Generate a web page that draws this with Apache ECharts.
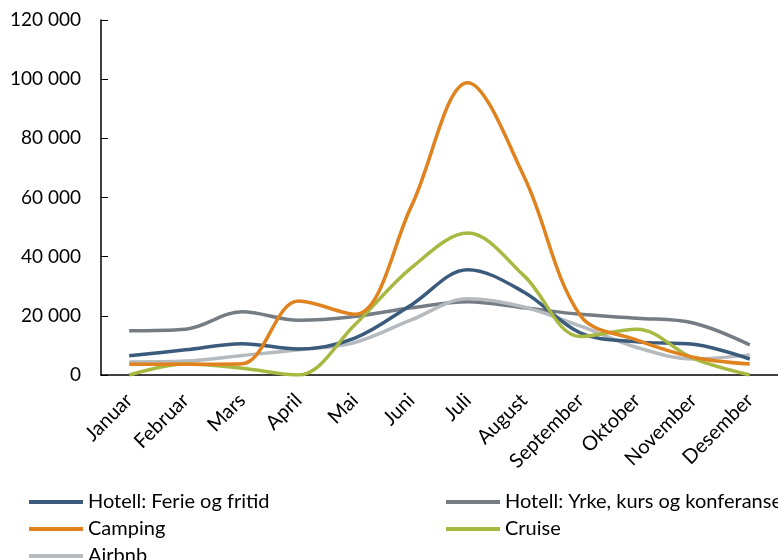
<!DOCTYPE html>
<html>
<head>
<meta charset="utf-8">
<script src="https://cdn.jsdelivr.net/npm/echarts@6/dist/echarts.min.js"></script>
<style>html,body{margin:0;padding:0;background:#fff}#c{width:778px;height:560px}</style>
</head>
<body>
<div id="c"></div>
<script>
var months = ['Januar','Februar','Mars','April','Mai','Juni','Juli','August','September','Oktober','November','Desember'];
var hotellFerie = [6500, 8500, 10600, 8800, 12500, 23700, 35600, 28000, 14200, 11200, 10400, 5400];
var hotellYrke = [15000, 15500, 21400, 18500, 19800, 22700, 24800, 22700, 20500, 19200, 17600, 10200];
var camping = [3600, 3600, 3800, 25000, 20500, 57000, 98800, 67000, 20000, 11800, 6000, 3700];
var cruise = [0, 3700, 2300, 0, 17000, 36200, 48000, 33500, 13000, 15500, 5600, 0];
var airbnb = [4400, 4700, 6600, 8500, 11000, 18600, 25800, 23000, 16500, 9300, 5400, 6800];
var yMin = 0, yMax = 120000, yStep = 20000;

var FONT = 'Lato';
function fmt(v){ return String(v).replace(/\B(?=(\d{3})+(?!\d))/g, ' '); }
function s(name, data, color){
  return {name: name, type: 'line', data: data, smooth: 0.35, symbol: 'none',
    lineStyle: {color: color, width: 3.5}, itemStyle: {color: color}};
}
var chart = echarts.init(document.getElementById('c'));
var legendCommon = {orient: 'vertical', itemWidth: 54, itemHeight: 4, icon: 'rect', itemGap: 7, height: 120,
  textStyle: {fontFamily: FONT, fontSize: 20, color: '#000', lineHeight: 18, padding: [0,0,0,0]}};
chart.setOption({
  animation: false,
  grid: {left: 101, top: 20, width: 688, height: 355},
  xAxis: {type: 'category', data: months, boundaryGap: true,
    axisLine: {lineStyle: {color: '#000', width: 1.5}}, axisTick: {show: false},
    axisLabel: {rotate: 45, margin: 22, fontFamily: FONT, fontSize: 20, color: '#000', interval: 0}},
  yAxis: {type: 'value', min: yMin, max: yMax, interval: yStep,
    axisLine: {show: true, lineStyle: {color: '#000', width: 1.5}},
    axisTick: {show: true, inside: true, length: 7, lineStyle: {color: '#000'}},
    splitLine: {show: false},
    axisLabel: {formatter: fmt, fontFamily: FONT, fontSize: 19, color: '#000', margin: 20}},
  legend: [
    Object.assign({left: 24, top: 487, data: ['Hotell: Ferie og fritid','Camping','Airbnb']}, legendCommon),
    Object.assign({left: 441, top: 487, data: ['Hotell: Yrke, kurs og konferanse','Cruise']}, legendCommon)
  ],
  series: [
    s('Hotell: Yrke, kurs og konferanse', hotellYrke, '#767C83'),
    s('Airbnb', airbnb, '#B5BABF'),
    s('Hotell: Ferie og fritid', hotellFerie, '#3A5B7B'),
    s('Cruise', cruise, '#A8B840'),
    s('Camping', camping, '#E0821E')
  ]
});
</script>
</body>
</html>
